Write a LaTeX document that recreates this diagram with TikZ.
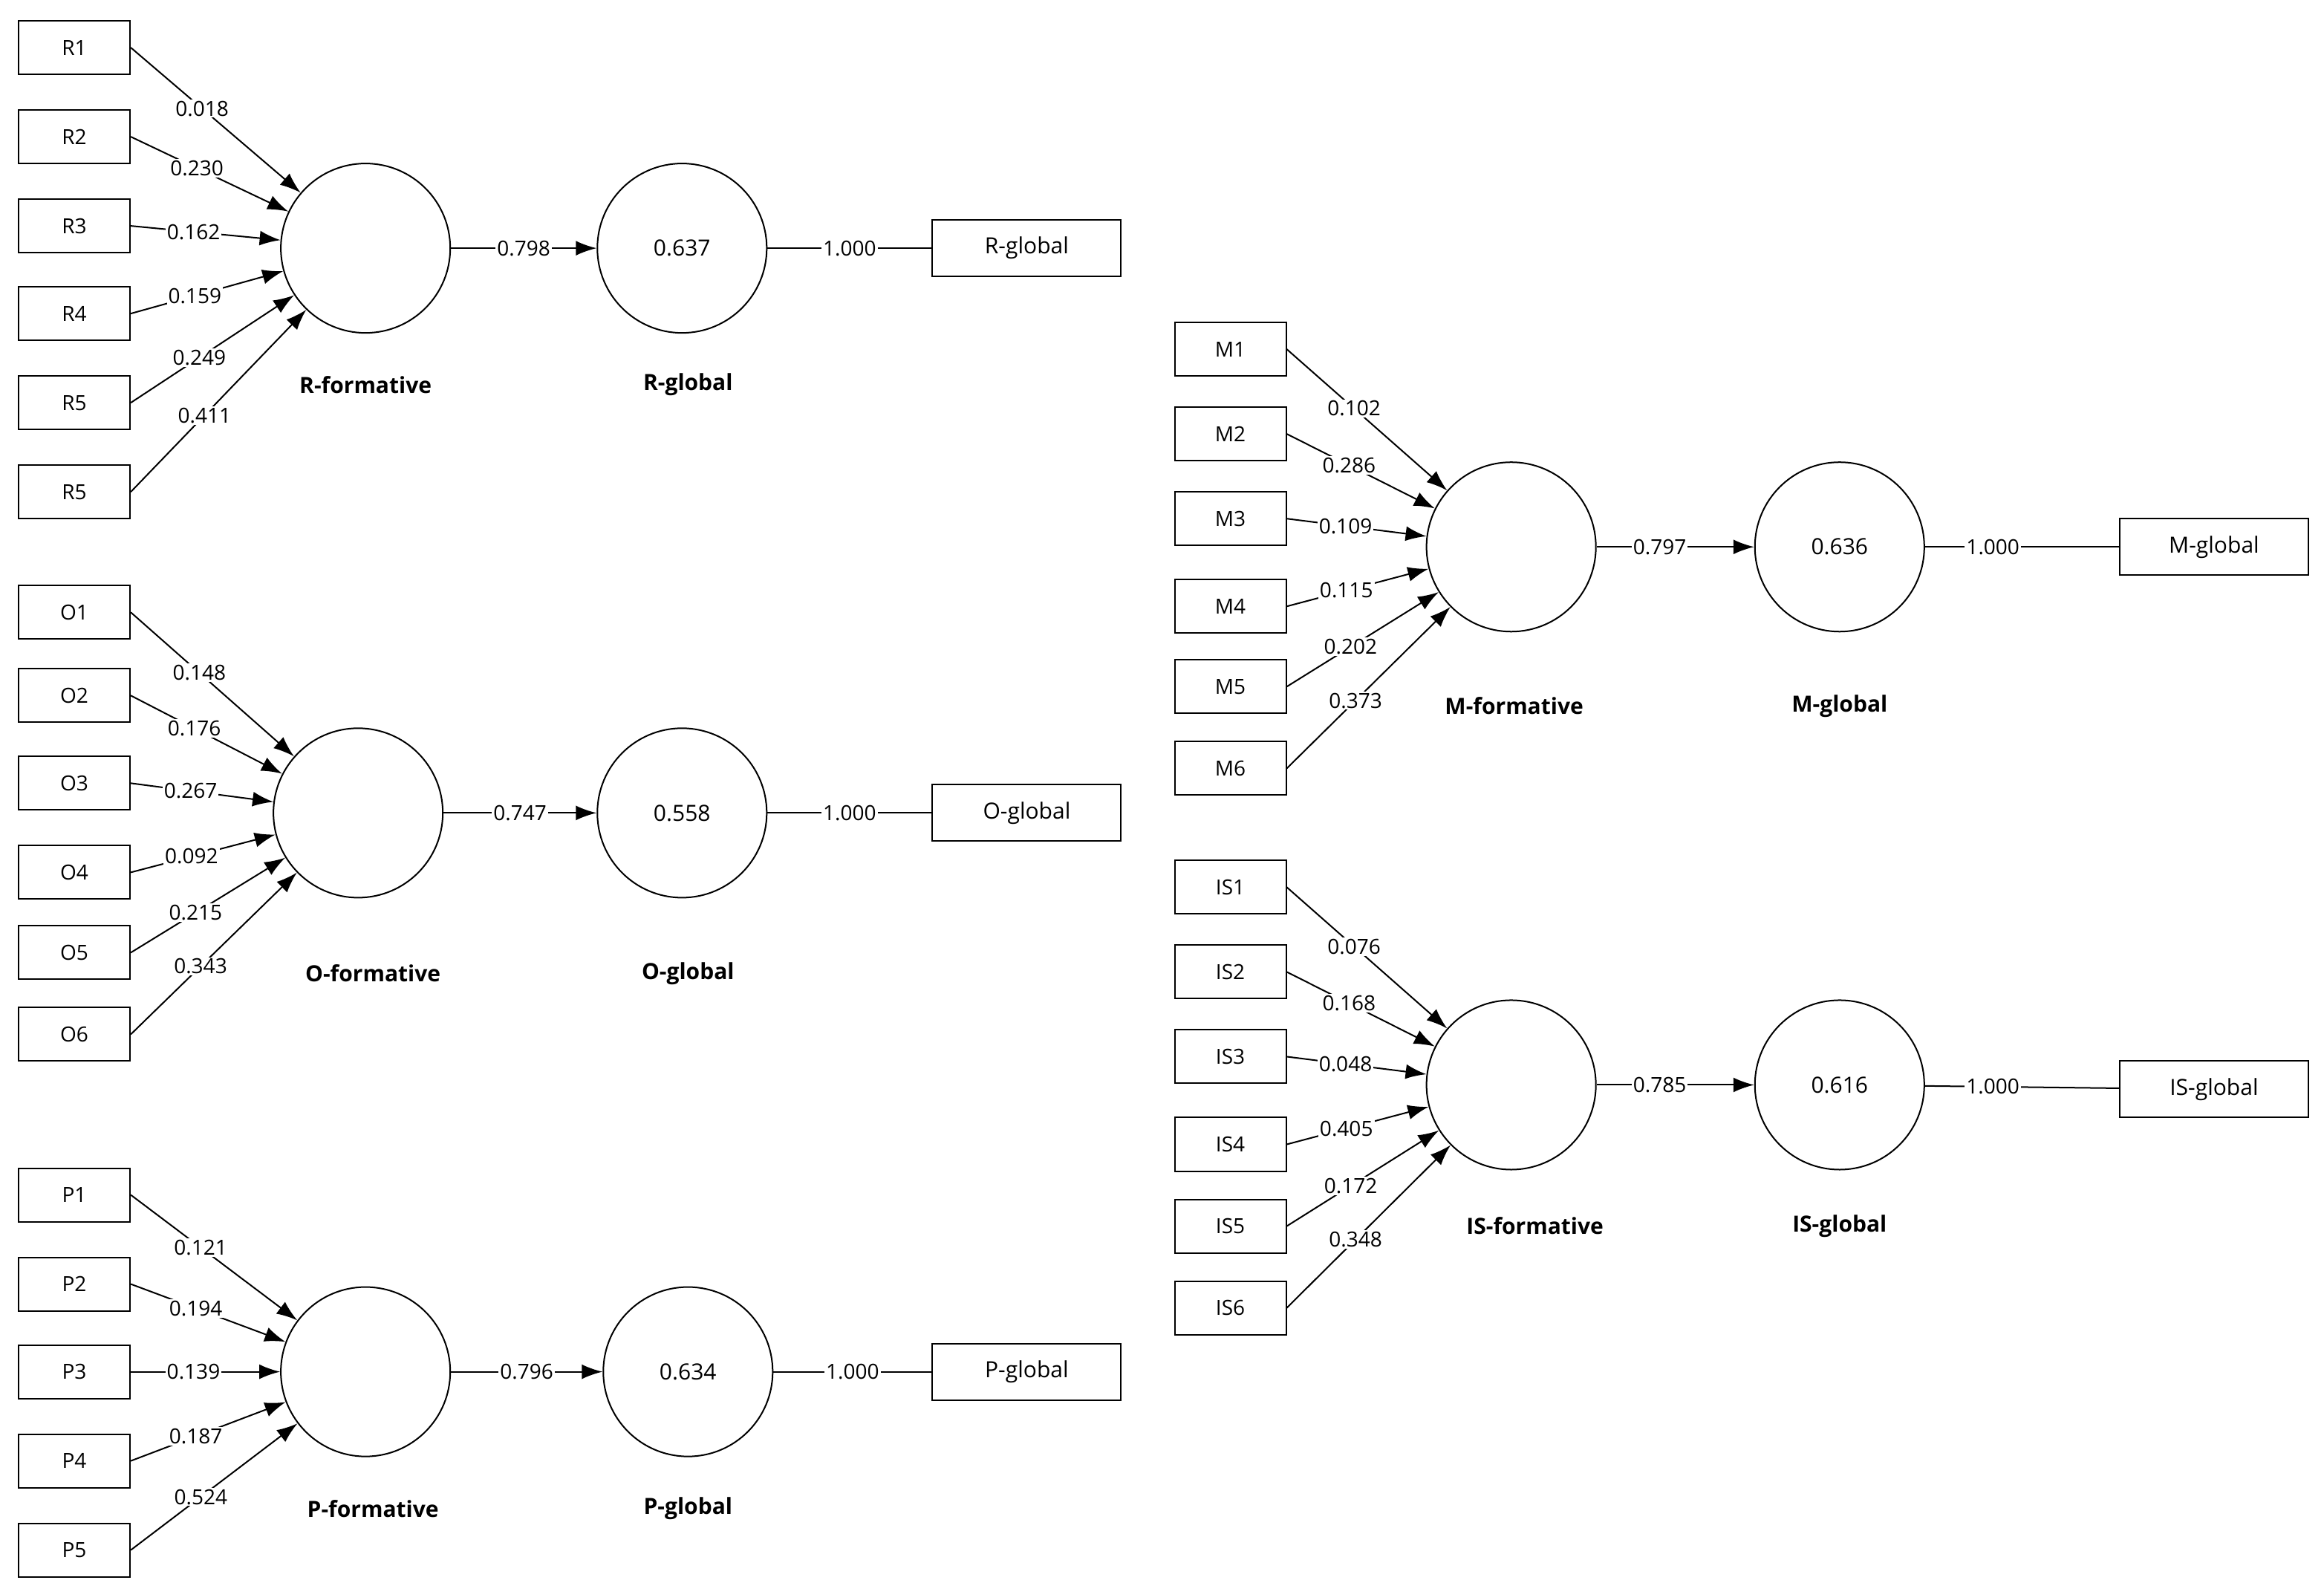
\documentclass[tikz,border=0pt]{standalone}
\usepackage{fontspec}
\setmainfont{Open Sans}
\usetikzlibrary{arrows.meta}
\begin{document}
\begin{tikzpicture}[x=1pt,y=-1pt,
 ind/.style={draw,line width=1pt,minimum width=75pt,minimum height=36pt,inner sep=0pt,font=\fontsize{14}{16}\selectfont},
 gbox/.style={draw,line width=1pt,minimum width=127pt,minimum height=38pt,inner sep=0pt,font=\fontsize{15}{17}\selectfont},
 lv/.style={draw,circle,line width=1pt,minimum size=114pt,inner sep=0pt,font=\fontsize{15}{17}\selectfont},
 nm/.style={font=\bfseries\fontsize{15}{17}\selectfont},
 arr/.style={line width=1pt,-{Latex[length=14pt,width=10pt]}},
 ln/.style={line width=1pt},
 w/.style={fill=white,inner sep=1pt,font=\fontsize{14}{16}\selectfont}]
\useasboundingbox (0,0) rectangle (1564,1065);
% generic block macro
\newcommand{\myblock}[9]{}
% ---- R block
\foreach \n/\y/\w in {1/32/0.018,2/92/0.230,3/152/0.162,4/211/0.159,5/271/0.249,6/331/0.411}{
 \ifnum\n=6 \node[ind] (R\n) at (50,\y) {R5};\else\node[ind] (R\n) at (50,\y) {R\n};\fi
}
\node[lv] (Rf) at (246,167) {};
\node[lv] (Rg) at (459,167) {0.637};
\node[gbox] (Rb) at (691,167) {R-global};
\node[nm] at (246,259) {R-formative};
\node[nm] at (463,259) {R-global};
\foreach \n/\w in {1/0.018,2/0.230,3/0.162,4/0.159,5/0.249,6/0.411}{
 \draw[arr] (R\n.east) -- (Rf) node[w,pos=0.42] {\w};}
\draw[arr] (Rf) -- (Rg) node[w,midway] {0.798};
\draw[ln] (Rg) -- (Rb) node[w,midway] {1.000};
% ---- O block
\foreach \n/\y in {1/412,2/468,3/527,4/587,5/641,6/696}{\node[ind] (O\n) at (50,\y) {O\n};}
\node[lv] (Of) at (241,547) {};
\node[lv] (Og) at (459,547) {0.558};
\node[gbox] (Ob) at (691,547) {O-global};
\node[nm] at (251,655) {O-formative};
\node[nm] at (463,655) {O-global};
\foreach \n/\w in {1/0.148,2/0.176,3/0.267,4/0.092,5/0.215,6/0.343}{
 \draw[arr] (O\n.east) -- (Of) node[w,pos=0.42] {\w};}
\draw[arr] (Of) -- (Og) node[w,midway] {0.747};
\draw[ln] (Og) -- (Ob) node[w,midway] {1.000};
% ---- P block
\foreach \n/\y in {1/804,2/864,3/923,4/983,5/1043}{\node[ind] (P\n) at (50,\y) {P\n};}
\node[lv] (Pf) at (246,923) {};
\node[lv] (Pg) at (463,923) {0.634};
\node[gbox] (Pb) at (691,923) {P-global};
\node[nm] at (251,1015) {P-formative};
\node[nm] at (463,1015) {P-global};
\foreach \n/\w in {1/0.121,2/0.194,3/0.139,4/0.187,5/0.524}{
 \draw[arr] (P\n.east) -- (Pf) node[w,pos=0.42] {\w};}
\draw[arr] (Pf) -- (Pg) node[w,midway] {0.796};
\draw[ln] (Pg) -- (Pb) node[w,midway] {1.000};
% ---- M block
\foreach \n/\y in {1/235,2/292,3/349,4/408,5/462,6/517}{\node[ind] (M\n) at (828,\y) {M\n};}
\node[lv] (Mf) at (1017,368) {};
\node[lv] (Mg) at (1238,368) {0.636};
\node[gbox] (Mb) at (1490,368) {M-global};
\node[nm] at (1019,475) {M-formative};
\node[nm] at (1238,475) {M-global};
\foreach \n/\w in {1/0.102,2/0.286,3/0.109,4/0.115,5/0.202,6/0.373}{
 \draw[arr] (M\n.east) -- (Mf) node[w,pos=0.42] {\w};}
\draw[arr] (Mf) -- (Mg) node[w,pos=0.4] {0.797};
\draw[ln] (Mg) -- (Mb) node[w,pos=0.35] {1.000};
% ---- IS block
\foreach \n/\y in {1/597,2/654,3/711,4/770,5/825,6/880}{\node[ind] (I\n) at (828,\y) {IS\n};}
\node[lv] (If) at (1017,730) {};
\node[lv] (Ig) at (1238,730) {0.616};
\node[gbox] (Ib) at (1490,733) {IS-global};
\node[nm] at (1033,825) {IS-formative};
\node[nm] at (1238,825) {IS-global};
\foreach \n/\w in {1/0.076,2/0.168,3/0.048,4/0.405,5/0.172,6/0.348}{
 \draw[arr] (I\n.east) -- (If) node[w,pos=0.42] {\w};}
\draw[arr] (If) -- (Ig) node[w,pos=0.4] {0.785};
\draw[ln] (Ig) -- (Ib) node[w,pos=0.35] {1.000};
\end{tikzpicture}
\end{document}
